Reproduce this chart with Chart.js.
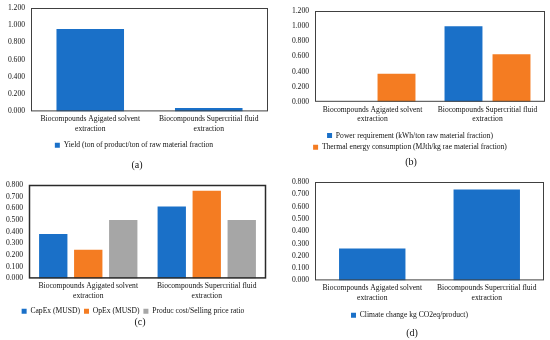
<!DOCTYPE html>
<html>
<head>
<meta charset="utf-8">
<script src="https://cdn.jsdelivr.net/npm/chart.js@4"></script>
<style>
  body { margin: 0; background: #fff; }
  #wrap { position: relative; width: 550px; height: 340px; overflow: hidden; }
  .panel { position: absolute; width: 275px; height: 170px; }
  .cap { position: absolute; font-family: "Liberation Serif", serif; font-size: 10px; color: #111; transform: translateX(-50%); }
</style>
</head>
<body>
<div id="wrap">
  <div class="panel" style="left:0;top:-3px"><canvas id="chartA"></canvas></div>
  <div class="panel" style="left:275px;top:0"><canvas id="chartB"></canvas></div>
  <div class="panel" style="left:0;top:170px"><canvas id="chartC"></canvas></div>
  <div class="panel" style="left:275px;top:170px"><canvas id="chartD"></canvas></div>
  <div class="cap" style="left:137px;top:159px">(a)</div>
  <div class="cap" style="left:411px;top:156px">(b)</div>
  <div class="cap" style="left:140px;top:316px">(c)</div>
  <div class="cap" style="left:412px;top:327px">(d)</div>
</div>
<script>
const categories = [
  ['Biocompounds Agigated solvent', 'extraction'],
  ['Biocompounds Supercritial fluid', 'extraction'],
];

const yieldValues = [0.955, 0.04];
const powerValues = [0, 1.0];
const thermalValues = [0.37, 0.63];
const capexValues = [0.38, 0.615];
const opexValues = [0.245, 0.75];
const costRatioValues = [0.5, 0.5];
const climateValues = [0.26, 0.74];

const BLUE = '#1a70c8';
const ORANGE = '#f47c22';
const GRAY = '#a6a6a6';
const TEXT = '#111';
const FONT = { family: '"Liberation Serif", "Times New Roman", serif', size: 7.6 };

// draws the dark frame around the plot area
const frame = {
  id: 'frame',
  afterDatasetsDraw(chart, args, opts) {
    const { ctx, chartArea: a } = chart;
    ctx.save();
    ctx.strokeStyle = opts.color || '#404040';
    ctx.lineWidth = opts.width || 1;
    ctx.strokeRect(a.left + 0.5, a.top + 0.5, a.right - a.left - 1, a.bottom - a.top - 1);
    ctx.restore();
  },
};

function makeChart(id, datasets, cfg) {
  const ctx = document.getElementById(id).getContext('2d');
  return new Chart(ctx, {
    type: 'bar',
    data: { labels: categories, datasets },
    plugins: [frame],
    options: {
      responsive: false,
      animation: false,
      layout: { padding: { left: 0, right: cfg.right, top: cfg.top, bottom: cfg.bottom } },
      datasets: { bar: { categoryPercentage: cfg.catPct, barPercentage: cfg.barPct } },
      plugins: {
        legend: {
          position: 'bottom',
          labels: { font: FONT, color: TEXT, boxWidth: 5, boxHeight: 5, padding: 4 },
        },
        tooltip: { enabled: false },
        frame: { color: cfg.frameColor, width: cfg.frameWidth },
      },
      scales: {
        x: {
          grid: { display: false, drawTicks: false },
          border: { display: false },
          ticks: { font: { ...FONT, lineHeight: 1.25 }, color: TEXT, padding: 3, maxRotation: 0, autoSkip: false },
          afterFit(scale) { scale.height = cfg.xHeight; },
        },
        y: {
          min: 0,
          max: cfg.max,
          grid: { display: false, drawTicks: false },
          border: { display: false },
          ticks: { stepSize: cfg.step, autoSkip: false, font: FONT, color: TEXT, padding: 6, callback: (v) => v.toFixed(3) },
          afterFit(scale) { scale.width = cfg.left; },
        },
      },
    },
  });
}

function setSize(id) {
  const c = document.getElementById(id);
  c.width = 275; c.height = 170;
  c.style.width = '275px'; c.style.height = '170px';
}
['chartA', 'chartB', 'chartC', 'chartD'].forEach(setSize);

makeChart('chartA', [
  { label: 'Yield (ton of product/ton of raw material fraction', data: yieldValues, backgroundColor: BLUE },
], { left: 31, right: 7, top: 11, bottom: 8, xHeight: 26, max: 1.2, step: 0.2, catPct: 0.57, barPct: 1 });

makeChart('chartB', [
  { label: 'Power requirement (kWh/ton raw material fraction)', data: powerValues, backgroundColor: BLUE },
  { label: 'Thermal energy consumption (MJth/kg rae material fraction)', data: thermalValues, backgroundColor: ORANGE },
], { left: 40, right: 5, top: 11, bottom: 9, xHeight: 26, max: 1.2, step: 0.2, catPct: 0.835, barPct: 0.79 });

makeChart('chartC', [
  { label: 'CapEx (MUSD)', data: capexValues, backgroundColor: BLUE },
  { label: 'OpEx (MUSD)', data: opexValues, backgroundColor: ORANGE },
  { label: 'Produc cost/Selling price ratio', data: costRatioValues, backgroundColor: GRAY },
], { left: 29, right: 9, top: 15, bottom: 15, xHeight: 25, max: 0.8, step: 0.1, catPct: 0.886, barPct: 0.81, frameColor: '#2a2a2a', frameWidth: 1.5 });

makeChart('chartD', [
  { label: 'Climate change kg CO2eq/product)', data: climateValues, backgroundColor: BLUE },
], { left: 40, right: 6, top: 12, bottom: 11, xHeight: 27, max: 0.8, step: 0.1, catPct: 0.58, barPct: 1 });
</script>
</body>
</html>
